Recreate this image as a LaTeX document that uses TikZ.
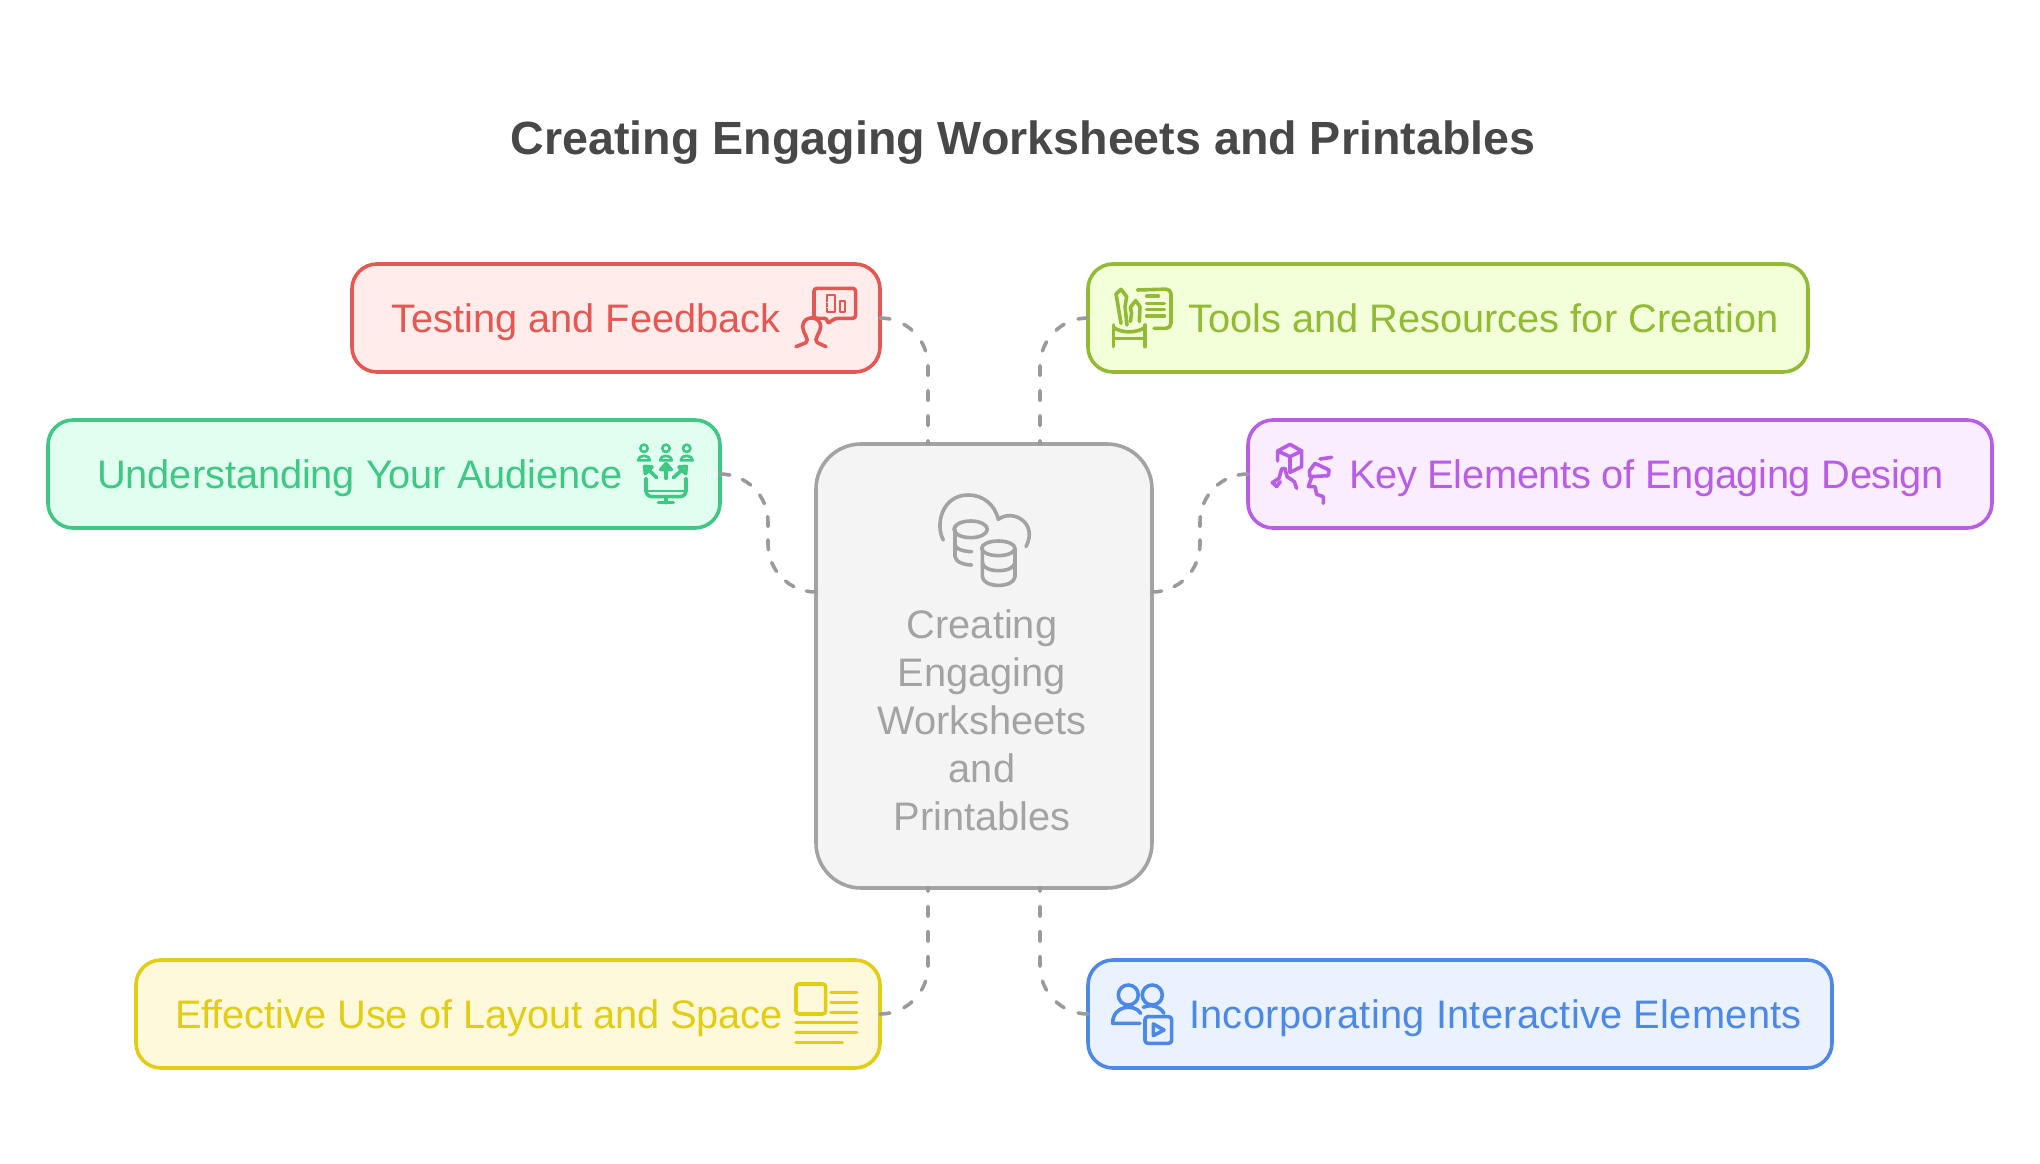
\documentclass[tikz,border=0pt]{standalone}
\usepackage{fontspec}
\setmainfont{Liberation Sans}
\definecolor{redline}{HTML}{E55753}
\definecolor{redfill}{HTML}{FFECEB}
\definecolor{limeline}{HTML}{93BA35}
\definecolor{limefill}{HTML}{F2FFD9}
\definecolor{greenline}{HTML}{3FC784}
\definecolor{greenfill}{HTML}{E0FFF0}
\definecolor{purpleline}{HTML}{BA5DE5}
\definecolor{purplefill}{HTML}{F9EDFF}
\definecolor{yellowline}{HTML}{E3CC14}
\definecolor{yellowfill}{HTML}{FFF9DB}
\definecolor{blueline}{HTML}{4E88E7}
\definecolor{bluefill}{HTML}{EAF2FF}
\definecolor{hubline}{HTML}{A3A3A3}
\definecolor{hubfill}{HTML}{F4F4F4}
\definecolor{titlegray}{HTML}{484848}
\definecolor{dashgray}{HTML}{9A9A9A}
\begin{document}
\begin{tikzpicture}[x=1pt, y=-1pt, line cap=round, line join=round]
	\tikzset{
		box/.style 2 args={draw=#1, fill=#2, line width=3.6pt, rounded corners=25pt, inner sep=0pt, outer sep=0pt, minimum height=108pt},
		boxtext/.style={text=#1, anchor=base west, inner sep=0pt, font=\fontsize{39.8}{48}\selectfont},
		conn/.style={draw=dashgray, line width=3.6pt, rounded corners=48pt, dash pattern=on 10pt off #1},
		conn/.default=15pt,
		icon/.style={x=0.3333pt, y=-0.3333pt, line width=3.6pt}
	}
	\useasboundingbox (0,0) rectangle (2040,1164);
	\node[anchor=base, inner sep=0pt, text=titlegray, font=\bfseries\fontsize{46.6}{56}\selectfont] (title) at (1023,154) {Creating Engaging Worksheets and Printables};

	\node[box={hubline}{hubfill}, rounded corners=45pt, minimum width=336pt, minimum height=444pt] (hub) at (984,666) {};
	\node[box={redline}{redfill}, minimum width=528pt] (testing) at (616,318) {};
	\node[box={limeline}{limefill}, minimum width=720pt] (tools) at (1448,318) {};
	\node[box={greenline}{greenfill}, minimum width=672pt] (audience) at (384,474) {};
	\node[box={purpleline}{purplefill}, minimum width=744pt] (design) at (1620,474) {};
	\node[box={yellowline}{yellowfill}, minimum width=744pt] (layout) at (508,1014) {};
	\node[box={blueline}{bluefill}, minimum width=744pt] (interactive) at (1460,1014) {};

	\node[boxtext=redline] (testingtext) at (391,332.5) {Testing and Feedback};
	\node[boxtext=limeline] (toolstext) at (1188,332.5) {Tools and Resources for Creation};
	\node[boxtext=greenline] (audiencetext) at (97,488.5) {\addfontfeature{LetterSpace=-0.2}Understanding Your Audience};
	\node[boxtext=purpleline] (designtext) at (1349,488.5) {\addfontfeature{LetterSpace=-0.9}Key Elements of Engaging Design};
	\node[boxtext=yellowline] (layouttext) at (175,1028.5) {\addfontfeature{LetterSpace=-0.2}Effective Use of Layout and Space};
	\node[boxtext=blueline] (interactivetext) at (1189,1028.5) {\addfontfeature{LetterSpace=0.7}Incorporating Interactive Elements};
	\node[text=hubline, align=center, inner sep=0pt, anchor=center, font=\fontsize{39.8}{48}\selectfont] (hubtext) at (982,720.5) {Creating\\Engaging\\Worksheets\\and\\Printables};

	\draw[conn] (testing.east) -| ([xshift=-56pt]hub.north);
	\draw[conn] (tools.west) -| ([xshift=56pt]hub.north);
	\draw[conn=13.3pt] (audience.east) -- ++(48,0) |- ([yshift=74pt]hub.west);
	\draw[conn=13.3pt] (design.west) -- ++(-48,0) |- ([yshift=74pt]hub.east);
	\draw[conn] (layout.east) -| ([xshift=-56pt]hub.south);
	\draw[conn] (interactive.west) -| ([xshift=56pt]hub.south);

	% testing
	\begin{scope}[shift={(790,280)}, icon, draw=redline, fill=redline]
		\draw[fill=none, rounded corners=3pt] (112,132) -- (112,115) -- (72,115) -- (72,25) -- (197,25) -- (197,115) -- (135,115) -- cycle;
		\draw[line width=2pt] (112,45) rectangle (135,95);
		\draw[line width=2pt] (150,62) rectangle (165,95);
		\draw[draw=redfill, line width=1.5pt] (112,68) -- (125,68) (112,82) -- (125,82);
		\draw[fill=none] (18,200) -- (48,188) .. controls (60,178) and (38,160) .. (38,140) .. controls (38,105) and (92,105) .. (92,140) .. controls (92,160) and (68,178) .. (82,188) -- (108,200);
	\end{scope}

	% tools
	\begin{scope}[shift={(1105,280)}, icon, draw=limeline]
		\draw[rounded corners=5pt] (97,30) -- (198,27) -- (198,145) -- (147,145);
		\draw (125,48) -- (160,48) (125,70) -- (178,70) (125,88) -- (178,88) (125,108) -- (178,108);
		\draw (48,130) -- (42,95) -- (38,70) -- (33,42) -- (48,28) -- (65,50) -- (60,80) -- (66,135);
		\draw (76,125) -- (80,100) -- (76,82) -- (92,62) -- (105,80) -- (103,125);
		\draw (25,135) -- (25,200) (120,135) -- (120,200);
		\draw (25,142) .. controls (50,160) and (95,160) .. (120,142);
		\draw (28,175) -- (117,175);
	\end{scope}

	% audience
	\begin{scope}[shift={(630,435)}, icon, draw=greenline, fill=greenline]
		\foreach \px in {42,108,170} {
			\draw[fill=none, line width=2.6pt] (\px,40) circle (11);
			\draw[line width=2.6pt] (\px-18,76) .. controls (\px-18,58) and (\px+18,58) .. (\px+18,76) -- cycle;
		}
		\draw[fill=none] (108,130) -- (108,100);
		\draw (108,86) -- (92,104) -- (124,104) -- cycle;
		\draw[fill=none] (80,128) -- (55,104);
		\draw (44,94) -- (66,96) -- (46,116) -- cycle;
		\draw[fill=none] (130,128) -- (157,104);
		\draw (169,94) -- (147,96) -- (167,116) -- cycle;
		\draw[fill=none, rounded corners=6pt] (48,130) -- (48,185) -- (168,185) -- (168,130);
		\draw[fill=none, line width=2pt] (48,167) -- (168,167);
		\draw[fill=none] (108,185) -- (108,203) (85,203) -- (130,203);
	\end{scope}

	% design
	\begin{scope}[shift={(1265,435)}, icon, draw=purpleline]
		\draw (38,78) -- (38,48) -- (75,28) -- (110,48) -- (110,95) -- (75,112) -- (75,65) -- (38,48);
		\draw (75,65) -- (110,48);
		\draw (36,155) -- (22,143) -- (42,130) -- (50,102) -- (60,100) -- (66,125) -- (88,140) -- (95,160);
		\draw (34,155) -- (46,140);
		\draw (165,72) -- (200,67);
		\draw (135,125) -- (190,122) -- (192,105) -- (150,85) -- (133,108) -- cycle;
		\draw (140,127) -- (130,155) -- (150,155) -- (155,178) -- (175,185) -- (175,205);
	\end{scope}

	% layout
	\begin{scope}[shift={(760,860)}, icon, draw=yellowline]
		\draw[rounded corners=3pt] (108,372) rectangle (197,462);
		\draw (213,398) -- (290,398) (213,428) -- (290,428) (213,458) -- (290,458);
		\draw (108,488) -- (290,488) (108,518) -- (290,518) (108,548) -- (247,548);
	\end{scope}

	% interactive
	\begin{scope}[shift={(760,860)}, icon, draw=blueline]
		\draw (1105,405) circle (30) (1177,405) circle (30);
		\draw (1140,490) -- (1058,490) .. controls (1058,435) and (1125,430) .. (1142,460);
		\draw (1150,442) .. controls (1170,432) and (1200,438) .. (1212,460);
		\draw[rounded corners=3pt] (1155,470) rectangle (1235,550);
		\draw (1180,492) -- (1212,510) -- (1180,527) -- cycle;
	\end{scope}

	% hub
	\begin{scope}[shift={(780,430)}, icon, draw=hubline]
		\draw (490,330) .. controls (465,285) and (485,195) .. (565,195) .. controls (610,195) and (645,225) .. (655,268) .. controls (700,235) and (775,280) .. (738,350);
		\draw (572,298) ellipse (50 and 25);
		\draw (525,298) -- (525,380) .. controls (527,397) and (555,405) .. (575,405);
		\draw (525,345) .. controls (527,358) and (555,365) .. (575,365);
		\draw (655,355) ellipse (50 and 22);
		\draw (607,355) -- (607,440) .. controls (610,475) and (702,475) .. (705,440) -- (705,355);
		\draw (607,398) .. controls (610,430) and (702,430) .. (705,398);
	\end{scope}
\end{tikzpicture}
\end{document}
